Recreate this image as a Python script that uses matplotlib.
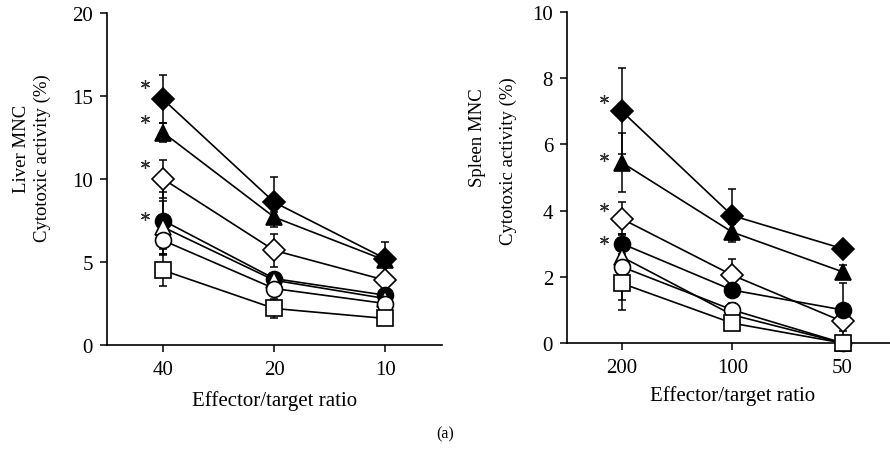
import matplotlib
matplotlib.use("Agg")
import matplotlib.pyplot as plt

plt.rcParams['font.family'] = ['Liberation Serif', 'DejaVu Serif']

# ---------------- data ----------------
liver_ticks = ['40', '20', '10']
spleen_ticks = ['200', '100', '50']

# Liver MNC cytotoxic activity (%)
liver_fd = [14.8, 8.6, 5.2]; liver_fd_err = [1.45, 1.5, 1.0]
liver_ft = [12.8, 7.7, 5.1]; liver_ft_err = [0.6, 0.3, 0.3]
liver_od = [10.0, 5.7, 3.9]; liver_od_err = [1.15, 1.0, 0.3]
liver_fc = [7.5, 4.0, 3.0];  liver_fc_err = [1.7, 0.3, 0.3]
liver_ot = [7.1, 3.9, 2.8];  liver_ot_err = [1.6, 0.3, 0.2]
liver_oc = [6.3, 3.4, 2.5];  liver_oc_err = [0.8, 0.3, 0.2]
liver_os = [4.5, 2.2, 1.6];  liver_os_err = [0.95, 0.6, 0.2]
liver_star_y = [15.7, 13.6, 10.9, 7.8]

# Spleen MNC cytotoxic activity (%)
spleen_fd = [7.0, 3.85, 2.85]; spleen_fd_err = [1.3, 0.8, 0.2]
spleen_ft = [5.45, 3.35, 2.15]; spleen_ft_err = [0.9, 0.25, 0.2]
spleen_od = [3.75, 2.05, 0.65]; spleen_od_err = [0.5, 0.5, 0.3]
spleen_fc = [3.0, 1.6, 1.0];   spleen_fc_err = [0.3, 0.2, 0.8]
spleen_ot = [2.6, 0.85, 0.0];  spleen_ot_err = [0.2, 0.1, 0.0]
spleen_oc = [2.3, 1.0, 0.0];   spleen_oc_err = [1.0, 0.2, 0.0]
spleen_os = [1.8, 0.6, 0.0];   spleen_os_err = [0.8, 0.2, 0.0]
spleen_star_y = [7.37, 5.63, 4.12, 3.11]

# marker styles (marker, filled)
styles = [('^', True), ('D', True), ('D', False), ('o', True), ('^', False), ('o', False), ('s', False)]
sizes = {'D': 11.5, '^': 11.5, 'o': 11.5, 's': 11.5}

W, H = 890, 456
fig = plt.figure(figsize=(W / 100, H / 100), dpi=100)

def px_axes(l, r, top, bottom):
    return fig.add_axes([l / W, (H - bottom) / H, (r - l) / W, (bottom - top) / H])

ax1 = px_axes(107, 442, 14, 346)
ax2 = px_axes(567, 890, 13, 344)

def draw(ax, series, stars, ticks, ylim, yticks, xlim):
    x = list(range(len(ticks)))
    for z, ((vals, errs), (m, filled)) in enumerate(zip(series, styles)):
        ax.errorbar(x, vals, yerr=errs, fmt='none', ecolor='black', elinewidth=1.1,
                    capsize=3, capthick=1.1, zorder=2 + z * 0.1, clip_on=False)
        ax.plot(x, vals, color='black', lw=1.2, marker=m, ms=sizes[m],
                mfc='black' if filled else 'white', mec='black', mew=1.2,
                zorder=3 + z * 0.1, clip_on=False)
    ax.plot([-0.16] * len(stars), stars, ls='none', marker=(6, 2, 0), ms=6.5,
            mew=0.9, color='#333333', zorder=5)
    ax.set_xlim(*xlim)
    ax.set_ylim(*ylim)
    ax.set_xticks(x)
    ax.set_xticklabels(ticks)
    ax.set_yticks(yticks)
    for s in ['top', 'right']:
        ax.spines[s].set_visible(False)
    for s in ['left', 'bottom']:
        ax.spines[s].set_linewidth(1.2)
    ax.tick_params(direction='out', length=5, width=1.1, labelsize=15, colors='black')
    ax.tick_params(axis='x', pad=6)
    ax.tick_params(axis='y', pad=5)

liver_series = [(liver_ft, liver_ft_err), (liver_fd, liver_fd_err), (liver_od, liver_od_err),
                (liver_fc, liver_fc_err), (liver_ot, liver_ot_err), (liver_oc, liver_oc_err),
                (liver_os, liver_os_err)]
spleen_series = [(spleen_ft, spleen_ft_err), (spleen_fd, spleen_fd_err), (spleen_od, spleen_od_err),
                 (spleen_fc, spleen_fc_err), (spleen_ot, spleen_ot_err), (spleen_oc, spleen_oc_err),
                 (spleen_os, spleen_os_err)]

draw(ax1, liver_series, liver_star_y, liver_ticks, (0, 20), [0, 5, 10, 15, 20], (-0.505, 2.51))
draw(ax2, spleen_series, spleen_star_y, spleen_ticks, (0, 10), [0, 2, 4, 6, 8, 10], (-0.498, 2.43))

def ftext(xp, yp, s, **kw):
    fig.text(xp / W, 1 - yp / H, s, ha='center', va='center', **kw)

ftext(22, 149, 'Liver MNC', rotation=90, fontsize=13.5)
ftext(42, 158, 'Cytotoxic activity (%)', rotation=90, fontsize=13.5)
ftext(478, 138, 'Spleen MNC', rotation=90, fontsize=13.5)
ftext(508, 161, 'Cytotoxic activity (%)', rotation=90, fontsize=13.5)
ftext(275, 401, 'Effector/target ratio', fontsize=15)
ftext(733, 396, 'Effector/target ratio', fontsize=15)
ftext(445, 434, '(a)', fontsize=11.5)

fig.savefig('out.png', dpi=100)
